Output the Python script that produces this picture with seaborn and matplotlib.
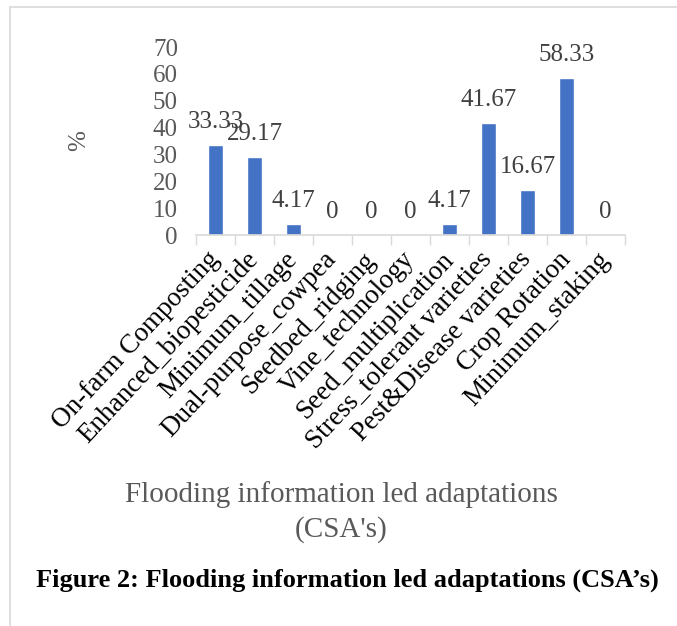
import numpy as np
import pandas as pd
import matplotlib
matplotlib.use("Agg")
import matplotlib.pyplot as plt
from matplotlib.lines import Line2D
import seaborn as sns

categories = [
    "On-farm Composting", "Enhanced_biopesticide", "Minimum_tillage",
    "Dual-purpose_cowpea", "Seedbed_ridging", "Vine_technology",
    "Seed_multiplication", "Stress_tolerant varieties",
    "Pest&Disease varieties", "Crop Rotation", "Minimum_staking",
]
percent = [33.33, 29.17, 4.17, 0, 0, 0, 4.17, 41.67, 16.67, 58.33, 0]
y_ticks = [0, 10, 20, 30, 40, 50, 60, 70]

sns.set_theme(style="white")
plt.rcParams["font.family"] = ["Liberation Serif", "DejaVu Serif"]

df = pd.DataFrame({"category": categories, "percent": percent})

fig = plt.figure(figsize=(6.77, 6.26), dpi=100)
ax = fig.add_axes([196 / 677, 1 - 235 / 626, (625 - 196) / 677, (235 - 47) / 626])

sns.barplot(data=df, x="category", y="percent", color="#4472C4",
            width=0.41, saturation=1, ax=ax)

ax.set_ylim(0, 70)
ax.set_xlim(-0.5, len(categories) - 0.5)
ax.set_yticks(y_ticks)
ax.set_yticklabels([str(t) for t in y_ticks], fontsize=18, color="#595959")
ax.tick_params(axis="y", length=0, pad=13)

ax.set_xticks(range(len(categories)))
ax.set_xticklabels(categories, rotation=47, ha="right", va="center",
                   rotation_mode="anchor", fontsize=19.5, color="#000000")
ax.tick_params(axis="x", which="major", length=0, pad=15)
ax.set_xticks(np.arange(-0.5, len(categories), 1.0), minor=True)
ax.tick_params(axis="x", which="minor", length=7, width=1, color="#d9d9d9",
               direction="out", bottom=True)

for side in ["top", "right", "left"]:
    ax.spines[side].set_visible(False)
ax.spines["bottom"].set_color("#d9d9d9")
ax.spines["bottom"].set_linewidth(1.2)

ax.set_xlabel("")
ax.set_ylabel("%", fontsize=18, color="#595959", labelpad=45)

for i, v in enumerate(percent):
    ax.text(i, v + 4.5, f"{v:g}", ha="center", va="bottom", fontsize=18,
            color="#404040", clip_on=False)

fig.text(341 / 677, 1 - 495 / 626, "Flooding information led adaptations",
         ha="center", va="center", fontsize=21, color="#595959")
fig.text(341 / 677, 1 - 530 / 626, "(CSA's)",
         ha="center", va="center", fontsize=21, color="#595959")
fig.text(347 / 677, 1 - 580 / 626,
         "Figure 2: Flooding information led adaptations (CSA\u2019s)",
         ha="center", va="center", fontsize=19, fontweight="bold", color="#000000")

fig.add_artist(Line2D([10 / 677, 10 / 677], [0, 1 - 7 / 626],
                      color="#d9d9d9", lw=1.2, transform=fig.transFigure))
fig.add_artist(Line2D([10 / 677, 1], [1 - 7 / 626, 1 - 7 / 626],
                      color="#d9d9d9", lw=1.2, transform=fig.transFigure))

fig.savefig("out.png", dpi=100)
